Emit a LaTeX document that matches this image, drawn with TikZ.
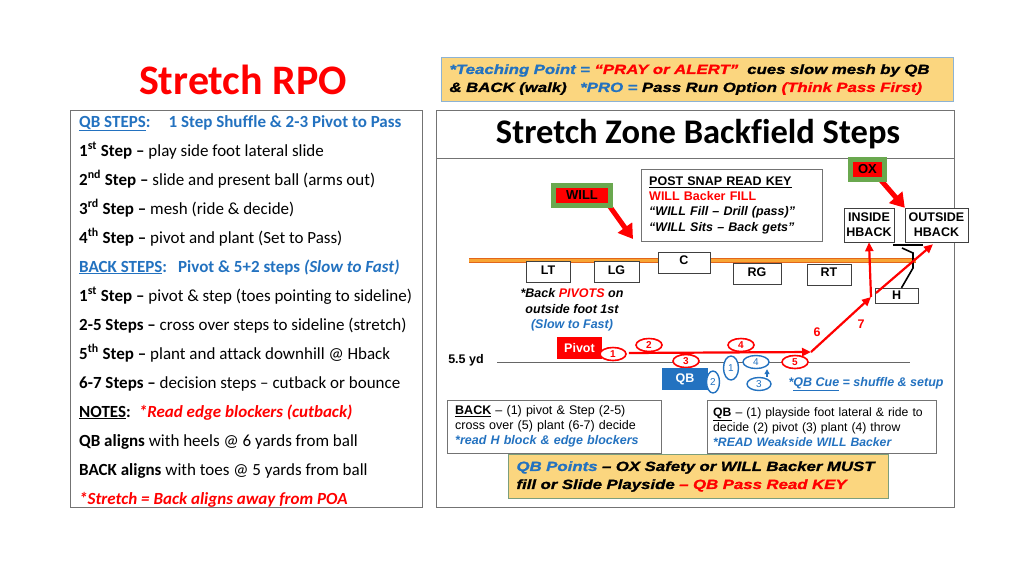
\documentclass[tikz,border=0pt]{standalone}
\usepackage{fontspec}
\setmainfont{Carlito}[Ligatures=NoCommon]
\newfontfamily\arialfont{Liberation Sans}
\newfontfamily\blackfont[FakeStretch=1.255, FakeBold=1.2]{Liberation Sans}
\usetikzlibrary{arrows.meta, positioning, shapes.geometric}

\definecolor{rpored}{HTML}{FF0000}
\definecolor{rpoblue}{HTML}{2372C0}
\definecolor{boxgold}{HTML}{FBD67F}
\definecolor{willgreen}{HTML}{6AA84F}
\definecolor{losorange}{HTML}{F8A533}
\definecolor{losdark}{HTML}{E2661A}
\definecolor{cueframe}{HTML}{8DB3D4}
\definecolor{pointframe}{HTML}{7C9E7C}

\begin{document}
\begin{tikzpicture}[x=1pt, y=-1pt,
  steptext/.style={anchor=base west, inner sep=0pt, font=\fontsize{17}{20}\selectfont},
  panel/.style={draw=black!55, line width=0.8pt},
  lineman/.style={draw=black!75, fill=white, inner sep=0pt, minimum height=21pt, text depth=4pt, font=\arialfont\bfseries\fontsize{12.5}{14}\selectfont},
  hback/.style={draw=black!75, fill=white, inner sep=1pt, minimum height=34pt, align=center, font=\arialfont\bfseries\fontsize{12.5}{15}\selectfont},
  defender/.style={draw=willgreen, line width=5pt, fill=rpored, inner sep=0pt, minimum height=20pt, font=\arialfont\bfseries\fontsize{13}{14}\selectfont},
  blitz/.style={draw=rpored, line width=5pt, -{Triangle[length=14pt,width=17pt]}},
  backstep/.style={ellipse, draw=rpored, line width=1.6pt, fill=white, text=rpored, inner sep=0pt, minimum width=26pt, minimum height=13pt, font=\arialfont\bfseries\fontsize{10}{10}\selectfont},
  qbstep/.style={ellipse, draw=rpoblue, line width=1.4pt, fill=white, text=rpoblue, inner sep=0pt, font=\arialfont\fontsize{10}{10}\selectfont},
  backrun/.style={draw=rpored, line width=2.2pt, -{Triangle[length=9pt,width=8pt]}},
  notebox/.style={draw=black!55, fill=white, anchor=north west, align=left, inner xsep=8pt, inner ysep=2pt, font=\arialfont\fontsize{12.5}{15}\selectfont},
  cuebox/.style={fill=boxgold, line width=1pt, anchor=north west, align=left, inner xsep=8pt, inner ysep=2pt, font=\blackfont\bfseries\itshape\fontsize{13.4}{18}\selectfont}
]
\useasboundingbox (0,0) rectangle (1024,576);
\fill[white] (0,0) rectangle (1024,576);

% left panel
\node[font=\bfseries\fontsize{42}{46}\selectfont, text=rpored] (title) at (243,80) {Stretch RPO};
\draw[panel] (70,110) rectangle (422,507);
\node[steptext, text=rpoblue] (qbhead) at (79,127) {\textbf{\underline{QB STEPS}:}\hspace{18pt}\textbf{1 Step Shuffle \& 2-3 Pivot to Pass}};
\node[steptext] (qb1) at (79,156) {\textbf{1\textsuperscript{st} Step –} play side foot lateral slide};
\node[steptext] (qb2) at (79,185) {\textbf{2\textsuperscript{nd} Step –} slide and present ball (arms out)};
\node[steptext] (qb3) at (79,214) {\textbf{3\textsuperscript{rd} Step –} mesh (ride \& decide)};
\node[steptext] (qb4) at (79,243) {\textbf{4\textsuperscript{th} Step –} pivot and plant (Set to Pass)};
\node[steptext, text=rpoblue] (backhead) at (79,272) {\textbf{\underline{BACK STEPS}:}\hspace{11pt}\textbf{Pivot \& 5+2 steps \textit{(Slow to Fast)}}};
\node[steptext] (bk1) at (79,301) {\textbf{1\textsuperscript{st} Step –} pivot \& step (toes pointing to sideline)};
\node[steptext] (bk2) at (79,330) {\textbf{2-5 Steps –} cross over steps to sideline (stretch)};
\node[steptext] (bk5) at (79,359) {\textbf{5\textsuperscript{th} Step –} plant and attack downhill @ Hback};
\node[steptext] (bk6) at (79,388) {\textbf{6-7 Steps –} decision steps – cutback or bounce};
\node[steptext] (notes) at (79,417) {\textbf{\underline{NOTES}:}\hspace{8pt}\textcolor{rpored}{\textbf{\textit{*Read edge blockers (cutback)}}}};
\node[steptext] (qbalign) at (79,446) {\textbf{QB aligns} with heels @ 6 yards from ball};
\node[steptext] (backalign) at (79,475) {\textbf{BACK aligns} with toes @ 5 yards from ball};
\node[steptext, text=rpored] (poa) at (79,504) {\textbf{\textit{*Stretch = Back aligns away from POA}}};

% teaching point
\node[cuebox, draw=cueframe, text width=496pt, minimum height=44pt] (teach) at (441,57)
  {\textcolor{rpoblue}{*Teaching Point =} \textcolor{rpored}{“PRAY or ALERT”}\ \ cues slow mesh by QB\\
   \& BACK (walk)\quad \textcolor{rpoblue}{*PRO =} Pass Run Option \textcolor{rpored}{(Think Pass First)}};

% right panel
\draw[panel] (436,110) rectangle (954,507);
\draw[panel] (436,158) -- (954,158);
\node[font=\bfseries\fontsize{34.5}{37}\selectfont] (zonetitle) at (698,134) {Stretch Zone Backfield Steps};

\node[notebox, text width=165pt, minimum height=72pt, font=\arialfont\bfseries\fontsize{12.5}{15.3}\selectfont] (readkey) at (641,169)
  {\underline{POST SNAP READ KEY}\\ \textcolor{rpored}{WILL Backer FILL}\\ \textit{“WILL Fill – Drill (pass)”}\\ \textit{“WILL Sits – Back gets”}};

% line of scrimmage
\coordinate (losleft) at (469,260.5);
\coordinate (losright) at (916,260.5);
\draw[draw=losdark, double=losorange, double distance=3pt, line width=1pt] (losleft) -- (losright);

\node[lineman, minimum width=44pt] (lt) at (548,272) {LT};
\node[lineman, minimum width=45pt] (lg) at (616.5,272) {LG};
\node[lineman, minimum width=52pt] (c) at (684,262.5) {C};
\node[lineman, minimum width=48pt] (rg) at (757,274) {RG};
\node[lineman, minimum width=44pt] (rt) at (829,274.5) {RT};
\node[lineman, minimum width=43pt, minimum height=15pt, text depth=1pt] (hb) at (896.5,295.5) {H};

\node[hback, minimum width=50pt] (inside) at (869,225) {INSIDE\\HBACK};
\node[hback, minimum width=63pt] (outside) at (936.5,225) {OUTSIDE\\HBACK};

% H block
\draw[line width=1.6pt] ([xshift=5pt]hb.north) -- (913,268) -- (913,253) -- (902,248);
\draw[line width=1.6pt] (893,245) -- (923,245);

% defenders
\coordinate (willhit) at (633,239);
\draw[blitz] (608,204) -- (willhit);
\node[defender, minimum width=57pt] (will) at (582,195.5) {WILL};
\draw[blitz] (879,178) -- (outside.north west);
\node[defender, minimum width=34pt] (ox) at (867.5,169.5) {OX};

% depth line
\node[font=\arialfont\bfseries\fontsize{12.5}{14}\selectfont] (yd) at (466,360) {5.5 yd};
\coordinate (ydend) at (910,362);
\draw[black!60, line width=1pt] (yd.east |- ydend) ++(10,0) -- (ydend);

\node[align=center, font=\arialfont\bfseries\itshape\fontsize{12.5}{15.5}\selectfont] (pivotnote) at (572,310)
  {*Back \textcolor{rpored}{PIVOTS} on\\ outside foot 1st\\ \textcolor{rpoblue}{(Slow to Fast)}};

% back path
\node[draw=rpored, fill=rpored, line width=2pt, text=white, minimum width=43pt, minimum height=20pt, inner sep=0pt, font=\arialfont\bfseries\fontsize{12.5}{14}\selectfont] (pivot) at (579.5,348) {Pivot};
\node[backstep] (r1) at (613,354) {1};
\node[backstep] (r2) at (649,345) {2};
\node[backstep] (r3) at (686,361) {3};
\node[backstep] (r4) at (741,345) {4};
\node[backstep] (r5) at (795,362) {5};
\coordinate (plant) at (811,352);
\coordinate (cutup) at (871,297);
\draw[backrun] ([xshift=2pt,yshift=1pt]r1.east) -- (plant);
\draw[backrun] (plant) -- (cutup);
\draw[backrun] (cutup) -- (inside.south);
\draw[backrun] ([xshift=5pt,yshift=4pt]cutup) -- ([xshift=-3.5pt,yshift=-2pt]outside.south);
\node[text=rpored, font=\arialfont\bfseries\fontsize{12.5}{14}\selectfont] (six) at (817,332) {6};
\node[text=rpored, font=\arialfont\bfseries\fontsize{12.5}{14}\selectfont] (seven) at (861,324) {7};

% qb path
\node[draw=rpoblue, fill=rpoblue, line width=2pt, text=white, minimum width=44pt, minimum height=20pt, inner sep=0pt, font=\arialfont\bfseries\fontsize{12.5}{14}\selectfont] (qb) at (685,379) {QB};
\node[qbstep, minimum width=13pt, minimum height=22pt] (q2) at (713,382) {2};
\node[qbstep, minimum width=15pt, minimum height=24pt] (q1) at (731,368) {1};
\node[qbstep, minimum width=26pt, minimum height=13pt] (q4) at (756,362) {4};
\node[qbstep, minimum width=24pt, minimum height=13pt] (q3) at (759,384) {3};
\draw[rpoblue, line width=1.2pt, -{Triangle[length=5pt,width=5pt]}] ([xshift=8pt]q3.north) -- ([xshift=11pt]q4.south);
\node[anchor=west, text=rpoblue, font=\arialfont\bfseries\itshape\fontsize{12.5}{14}\selectfont] (cue) at (785,384) {*\underline{QB Cue} = shuffle \& setup};

% coaching notes
\node[notebox, text width=198pt, minimum height=53pt] (backnote) at (447,400)
  {\textbf{\underline{BACK}} – (1) pivot \& Step (2-5)\\ cross over (5) plant (6-7) decide\\ \textcolor{rpoblue}{\bfseries\itshape *read H block \& edge blockers}};
\node[notebox, inner xsep=6pt, text width=217pt, minimum height=53pt, font=\arialfont\fontsize{12.2}{15}\selectfont] (qbnote) at (707,400)
  {\textbf{\underline{QB}} – (1) playside foot lateral \& ride to\\ decide (2) pivot (3) plant (4) throw\\ \textcolor{rpoblue}{\bfseries\itshape *READ Weakside WILL Backer}};
\node[cuebox, draw=pointframe, text width=364pt, minimum height=44pt] (points) at (508,454)
  {\textcolor{rpoblue}{QB Points} – OX Safety or WILL Backer MUST\\ fill or Slide Playside \textcolor{rpored}{– QB Pass Read KEY}};
\end{tikzpicture}
\end{document}
